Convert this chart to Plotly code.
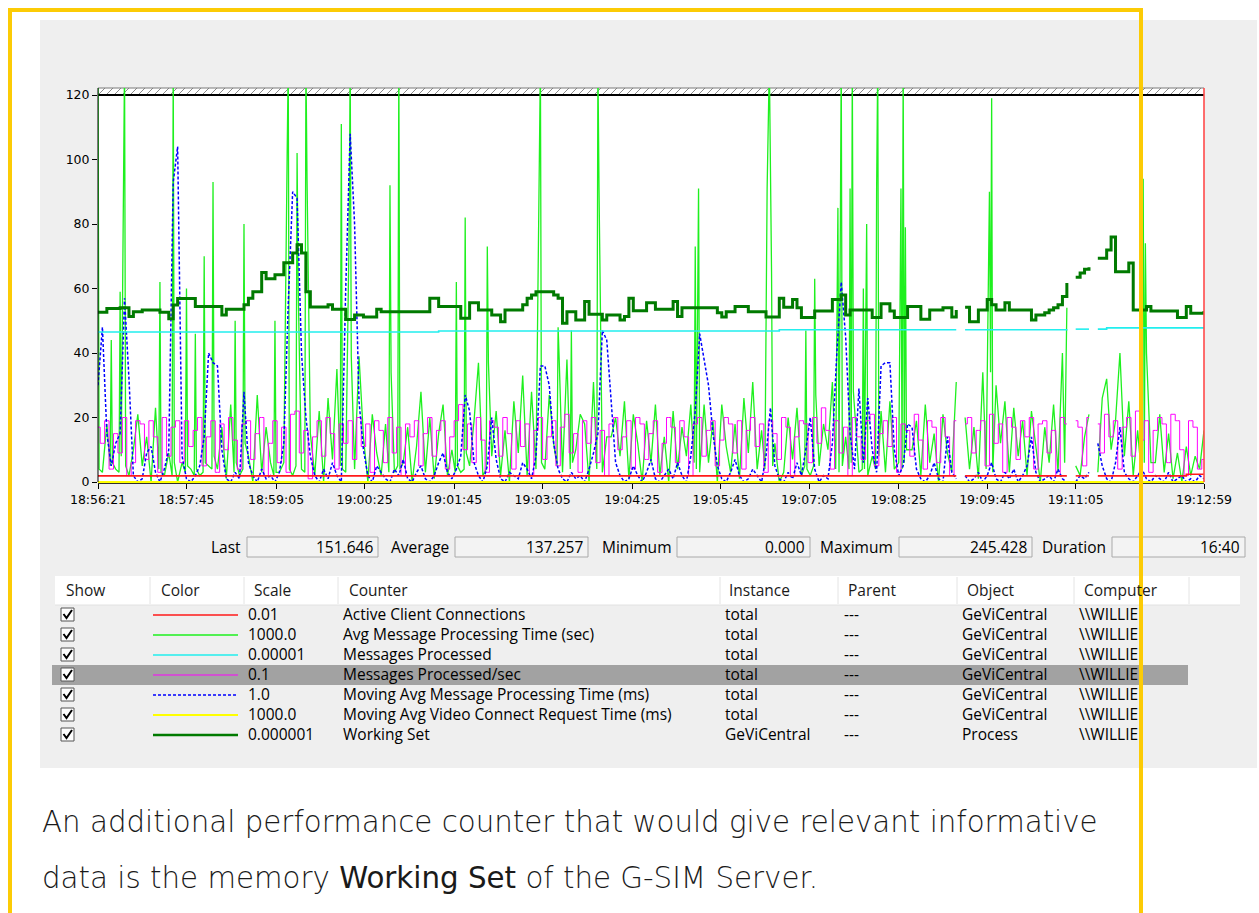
import plotly.graph_objects as go

W, H = 1259, 913


def px(x):
    return x / W


def py(y):
    return 1 - y / H


# ---------------------------------------------------------------- data
# sample time in seconds since 18:56:21 (one sample every 4 s)
t = list(range(0, 1001, 4))

tick_pos = [0, 80, 161, 241, 322, 402, 483, 563, 643, 724, 804, 884, 1000]
tick_text = ["18:56:21", "18:57:45", "18:59:05", "19:00:25", "19:01:45", "19:03:05",
             "19:04:25", "19:05:45", "19:07:05", "19:08:25", "19:09:45", "19:11:05",
             "19:12:59"]
y_ticks = [0, 20, 40, 60, 80, 100, 120]

# Avg Message Processing Time (sec), scale 1000.0 -- (second, value) samples;
# the one-second bursts are kept at full time resolution
avg_proc_samples = [
    (0, 130), (1, 4), (4, 3), (8, 18), (11, 5), (12, 44), (13, 6), (16, 4),
    (19, 3), (20, 59), (21, 8), (23, 91), (24, 130), (25, 5), (28, 2), (32, 10),
    (36, 21), (40, 5), (44, 14), (48, 0), (52, 23), (55, 4), (56, 62), (57, 3),
    (60, 2), (64, 9), (67, 2), (68, 130), (69, 6), (72, 0), (76, 6), (79, 3),
    (80, 60), (81, 5), (84, 4), (87, 2), (88, 46), (89, 4), (92, 2), (95, 3),
    (96, 70), (97, 6), (100, 5), (103, 4), (104, 93), (105, 8), (108, 4), (112, 17),
    (116, 1), (120, 24), (123, 3), (124, 50), (125, 6), (128, 2), (131, 4), (132, 80),
    (133, 12), (136, 8), (140, 0), (144, 27), (148, 3), (152, 17), (156, 6), (159, 2),
    (160, 50), (161, 3), (164, 3), (168, 6), (171, 101), (172, 130), (173, 4), (176, 2),
    (179, 5), (180, 102), (181, 60), (184, 4), (187, 3), (188, 130), (189, 94), (192, 15),
    (196, 2), (200, 22), (204, 0), (208, 26), (212, 7), (216, 35), (219, 5), (220, 111),
    (221, 4), (224, 3), (227, 76), (228, 130), (229, 39), (232, 4), (236, 39), (240, 14),
    (244, 0), (248, 21), (252, 9), (256, 2), (260, 18), (263, 3), (264, 92), (265, 34),
    (268, 3), (271, 5), (272, 130), (273, 4), (276, 6), (280, 17), (284, 0), (288, 11),
    (292, 28), (296, 3), (300, 20), (304, 1), (308, 15), (312, 24), (316, 2), (320, 10),
    (323, 3), (324, 62), (325, 5), (328, 3), (331, 4), (332, 82), (333, 9), (336, 5),
    (340, 19), (344, 37), (348, 2), (351, 4), (352, 73), (353, 37), (356, 8), (360, 22),
    (364, 2), (368, 16), (372, 0), (376, 25), (380, 9), (384, 33), (388, 2), (392, 28),
    (396, 4), (399, 91), (400, 130), (401, 6), (404, 4), (408, 27), (412, 12), (415, 5),
    (416, 48), (417, 38), (420, 3), (424, 38), (427, 4), (428, 47), (429, 6), (432, 10),
    (436, 21), (440, 18), (444, 0), (448, 31), (451, 4), (452, 130), (453, 91), (456, 3),
    (460, 14), (464, 14), (468, 20), (472, 8), (476, 25), (480, 1), (484, 21), (488, 12),
    (492, 0), (496, 19), (500, 6), (504, 24), (508, 2), (512, 14), (516, 0), (520, 22),
    (524, 4), (528, 17), (532, 8), (536, 24), (539, 6), (540, 73), (541, 4), (543, 91),
    (544, 3), (548, 24), (552, 6), (556, 19), (560, 0), (564, 24), (568, 11), (572, 3),
    (576, 18), (580, 1), (584, 26), (588, 9), (592, 31), (596, 4), (600, 16), (603, 4),
    (605, 91), (607, 130), (609, 65), (610, 5), (612, 12), (616, 0), (620, 3), (624, 20),
    (628, 7), (632, 23), (636, 2), (639, 5), (640, 47), (641, 4), (644, 2), (647, 5),
    (648, 63), (649, 27), (652, 5), (656, 18), (660, 10), (664, 31), (667, 4), (669, 85),
    (670, 3), (672, 130), (673, 5), (676, 14), (679, 4), (680, 91), (681, 6), (682, 130),
    (683, 28), (688, 3), (691, 4), (692, 60), (693, 4), (695, 80), (696, 2), (700, 8),
    (703, 4), (704, 91), (705, 130), (706, 8), (708, 22), (712, 3), (716, 25), (720, 4),
    (724, 6), (726, 91), (727, 4), (728, 130), (729, 6), (730, 79), (731, 10), (736, 10),
    (740, 19), (744, 2), (748, 24), (752, 6), (756, 15), (760, 0), (764, 21), (768, 9),
    (772, 3), (776, 31), (780, None), (784, 20), (788, 4), (792, 17), (796, 1), (800, 34),
    (803, 4), (806, 90), (807, 34), (808, 119), (809, 3), (812, 30), (816, 12), (820, 25),
    (824, 3), (828, 23), (832, 8), (836, 19), (840, 2), (844, 22), (848, 11), (852, 0),
    (856, 17), (860, 6), (864, 24), (868, 3), (872, 40), (874, 6), (876, 54), (880, None),
    (884, 5), (888, 2), (892, 14), (896, 21), (900, None), (904, 3), (908, 26), (912, 32),
    (916, 10), (920, 19), (924, 40), (928, 8), (932, 25), (936, 2), (940, 16), (943, 4),
    (945, 94), (946, 6), (947, 74), (948, 40), (952, 6), (956, 6), (960, 21), (964, 3),
    (968, 15), (972, 1), (976, 9), (980, 0), (984, 11), (988, 2), (992, 8), (996, 4),
    (1000, 16),
]
avg_proc_t = [s for s, _ in avg_proc_samples]
avg_proc_time = [v for _, v in avg_proc_samples]

# Messages Processed/sec, scale 0.1
msgs_per_sec = [
    17, 12, 19, 4, 15, 9, 20, 2, 6, 19,
    18, 7, 19, 14, 3, 20, 8, 17, 19, 6,
    19, 11, 16, 20, 5, 14, 19, 3, 18, 10,
    20, 13, 4, 18, 19, 7, 15, 20, 2, 12,
    19, 6, 17, 3, 21, 22, 9, 16, 1, 14,
    19, 8, 20, 15, 4, 18, 12, 19, 7, 20,
    11, 18, 3, 19, 16, 6, 20, 9, 17, 2,
    18, 14, 19, 5, 15, 20, 8, 16, 19, 4,
    14, 19, 24, 10, 18, 6, 20, 13, 3, 19,
    17, 8, 20, 15, 4, 19, 11, 18, 2, 16,
    20, 7, 14, 19, 5, 17, 21, 9, 15, 3,
    19, 12, 20, 6, 16, 2, 18, 20, 10, 14,
    19, 4, 20, 18, 7, 15, 19, 3, 12, 20,
    17, 6, 19, 14, 2, 18, 20, 8, 16, 19,
    5, 13, 20, 18, 9, 19, 4, 16, 20, 11,
    18, 3, 19, 15, 7, 20, 17, 2, 14, 19,
    18, 6, 20, 12, 23, 16, 4, 19, 9, 17,
    2, 20, 14, 7, 19, 21, 5, 15, 19, 11,
    20, 3, 18, 16, 8, 21, 13, 4, 19, 17,
    6, 20, 14, 2, 19, None, 18, 20, 9, 16,
    19, 5, 21, 12, 18, 3, 20, 17, 7, 19,
    14, 20, 4, 18, 19, 9, 16, 2, 20, 18,
    None, 19, 17, 5, 20, None, 18, 9, 21, 14,
    19, 4, 17, 20, 8, 22, 13, 19, 3, 16,
    20, 18, 6, 21, 19, 10, 2, 19, 17, 4,
    7,
]

# Moving Avg Message Processing Time (ms), scale 1.0
moving_avg_proc = [
    30, 48, 15, 5, 12, 15, 57, 32, 2, 0,
    1, 9, 11, 3, 0, 4, 10, 93, 104, 8,
    1, 0, 2, 5, 14, 40, 37, 36, 10, 1,
    0, 3, 1, 28, 6, 2, 0, 4, 1, 2,
    0, 3, 12, 55, 90, 88, 40, 20, 8, 2,
    0, 4, 1, 6, 2, 0, 60, 108, 80, 25,
    10, 2, 0, 5, 3, 1, 0, 4, 2, 7,
    1, 0, 3, 5, 1, 0, 2, 6, 9, 3,
    1, 4, 8, 27, 22, 6, 2, 0, 5, 20,
    7, 1, 0, 3, 2, 1, 6, 4, 1, 8,
    36, 36, 30, 12, 4, 1, 0, 3, 1, 2,
    0, 4, 9, 15, 47, 44, 25, 6, 2, 0,
    1, 5, 2, 0, 3, 7, 1, 0, 2, 4,
    1, 6, 2, 0, 8, 22, 46, 38, 30, 15,
    5, 1, 0, 3, 7, 2, 0, 1, 4, 2,
    0, 8, 23, 5, 1, 0, 3, 1, 6, 2,
    10, 20, 4, 0, 2, 1, 12, 40, 62, 45,
    15, 4, 29, 6, 26, 10, 3, 36, 37, 37,
    10, 2, 5, 18, 17, 4, 1, 0, 2, 6,
    1, 0, 14, 3, 1, None, 2, 0, 1, 3,
    0, 2, 6, 1, 0, 3, 1, 4, 0, 2,
    5, 14, 3, 0, 1, 2, 0, 4, 1, 0,
    None, 0, 2, 1, 3, None, 12, 5, 1, 0,
    6, 17, 3, 1, 0, 2, 4, 1, 0, 2,
    1, 0, 3, 0, 1, 2, 0, 1, 0, 2,
    1,
]

# Working Set, scale 0.000001
working_set = [
    52.6, 52.6, 53.8, 53.8, 53.8, 54.0, 54.0, 51.3, 52.8, 52.8,
    53.3, 53.3, 53.3, 53.3, 52.6, 52.6, 50.6, 54.9, 56.9, 56.9,
    56.9, 56.9, 54.4, 54.4, 54.4, 54.4, 54.4, 54.4, 51.8, 53.6,
    53.6, 53.6, 53.6, 55.0, 57.0, 59.0, 59.0, 65.0, 63.0, 63.0,
    64.3, 64.3, 68.0, 68.0, 71.0, 73.6, 71.0, 59.0, 54.3, 54.3,
    54.3, 54.3, 55.0, 53.6, 53.6, 53.6, 50.4, 50.4, 51.8, 51.8,
    51.2, 51.2, 51.2, 53.6, 52.8, 52.8, 52.8, 52.8, 52.8, 52.8,
    52.8, 52.8, 52.8, 52.8, 52.8, 57.0, 57.0, 54.4, 54.4, 54.4,
    54.4, 54.4, 50.8, 50.8, 55.6, 55.6, 53.3, 53.3, 53.3, 51.8,
    51.8, 49.7, 53.3, 53.3, 53.3, 53.3, 55.0, 57.0, 58.0, 59.0,
    59.0, 59.0, 59.0, 58.0, 57.0, 49.2, 52.8, 52.8, 50.2, 50.2,
    56.0, 52.0, 52.0, 52.0, 50.2, 51.8, 51.8, 51.8, 50.2, 51.3,
    57.0, 53.1, 53.1, 53.1, 55.6, 55.6, 53.6, 53.6, 53.6, 53.6,
    56.0, 51.3, 54.0, 54.0, 54.0, 54.0, 54.0, 54.0, 54.0, 54.0,
    52.5, 51.2, 52.8, 52.8, 54.4, 54.4, 54.4, 52.8, 52.8, 52.8,
    52.8, 51.2, 51.2, 51.2, 57.0, 54.2, 54.2, 56.6, 54.0, 51.0,
    51.0, 51.0, 53.0, 53.0, 53.0, 53.0, 56.6, 56.6, 58.0, 51.8,
    53.3, 53.3, 53.3, 53.3, 53.3, 51.0, 51.0, 55.3, 55.3, 53.0,
    51.0, 51.0, 51.0, 54.4, 54.4, 54.4, 50.5, 50.5, 53.3, 53.3,
    53.3, 54.0, 54.0, 51.2, 53.3, None, 54.2, 49.7, 49.7, 53.3,
    53.3, 56.6, 55.0, 53.3, 53.3, 55.6, 53.3, 53.3, 53.3, 53.3,
    53.3, 50.2, 51.8, 51.8, 52.5, 53.3, 54.0, 55.0, 57.5, 61.7,
    None, 63.5, 64.8, 66.0, 66.6, None, 69.4, 69.4, 71.9, 76.0,
    65.2, 65.2, 65.2, 67.9, 53.3, 53.3, 53.3, 54.4, 53.0, 53.0,
    53.0, 53.0, 53.0, 53.0, 51.0, 51.0, 54.4, 52.3, 52.3, 52.3,
    53.0,
]

# Active Client Connections, scale 0.01 (value changes only)
active_conn_t = [0, 776, 780, 784, 876, 880, 884, 896, 900, 904, 984, 1000]
active_conn = [1.9, 1.9, None, 1.9, 1.9, None, 1.9, 1.9, None, 1.9, 2.4, 2.4]

# Messages Processed, scale 0.00001 (value changes only)
msgs_processed_t = [0, 308, 616, 776, 780, 784, 876, 880, 884, 896, 900, 904, 912, 1000]
msgs_processed = [46.5, 46.8, 47.2, 47.2, None, 47.2, 47.4, None, 47.4, 47.4, None,
                  47.4, 47.8, 47.8]

# Moving Avg Video Connect Request Time (ms), scale 1000.0
video_req_t = [0, 1000]
video_req = [0, 0]

# statistics bar
stat_labels = ["Last", "Average", "Minimum", "Maximum", "Duration"]
stat_values = ["151.646", "137.257", "0.000", "245.428", "16:40"]

# counter list
header_names = ["Show", "Color", "Scale", "Counter", "Instance", "Parent", "Object",
                "Computer"]
counter_scales = ["0.01", "1000.0", "0.00001", "0.1", "1.0", "1000.0", "0.000001"]
counter_names = ["Active Client Connections", "Avg Message Processing Time (sec)",
                 "Messages Processed", "Messages Processed/sec",
                 "Moving Avg Message Processing Time (ms)",
                 "Moving Avg Video Connect Request Time (ms)", "Working Set"]
counter_instances = ["total", "total", "total", "total", "total", "total", "GeViCentral"]
counter_parents = ["---", "---", "---", "---", "---", "---", "---"]
counter_objects = ["GeViCentral", "GeViCentral", "GeViCentral", "GeViCentral",
                   "GeViCentral", "GeViCentral", "Process"]
counter_computers = ["\\\\WILLIE", "\\\\WILLIE", "\\\\WILLIE", "\\\\WILLIE",
                     "\\\\WILLIE", "\\\\WILLIE", "\\\\WILLIE"]
selected_counter = "Messages Processed/sec"

paragraph = ["An additional performance counter that would give relevant informative",
             "data is the memory <span style=\"font-weight:500\">Working Set</span> "
             "of the G-SIM Server."]

# ---------------------------------------------------------------- styles
styles = {
    "Active Client Connections": dict(color="#ff1a1a", width=1.6, dash="solid"),
    "Avg Message Processing Time (sec)": dict(color="#1ef01e", width=1.3, dash="solid"),
    "Messages Processed": dict(color="#22eeee", width=1.6, dash="solid"),
    "Messages Processed/sec": dict(color="#ff00ff", width=1.0, dash="solid"),
    "Moving Avg Message Processing Time (ms)": dict(color="#0000ff", width=1.5,
                                                    dash="3px,2px"),
    "Moving Avg Video Connect Request Time (ms)": dict(color="#ffff00", width=2.0,
                                                       dash="solid"),
    "Working Set": dict(color="#007a00", width=3.0, dash="solid"),
}

UI_FONT = "Open Sans"
AX_FONT = "DejaVu Sans"

fig = go.Figure()


def add_series(x, y, name, shape="linear"):
    st = styles[name]
    fig.add_trace(go.Scatter(
        x=x, y=y, mode="lines", name=name, showlegend=False, hoverinfo="skip",
        line=dict(color=st["color"], width=st["width"], dash=st["dash"], shape=shape),
        connectgaps=False,
    ))


add_series(avg_proc_t, avg_proc_time, "Avg Message Processing Time (sec)")
add_series(t, msgs_per_sec, "Messages Processed/sec", shape="hvh")
add_series(t, moving_avg_proc, "Moving Avg Message Processing Time (ms)")
add_series(msgs_processed_t, msgs_processed, "Messages Processed", shape="hv")
add_series(active_conn_t, active_conn, "Active Client Connections", shape="hv")
add_series(video_req_t, video_req, "Moving Avg Video Connect Request Time (ms)")
add_series(t, working_set, "Working Set", shape="hv")

# ---------------------------------------------------------------- decorations
PL, PR, PT, PB = 98, 1204, 95, 482          # frame of the 0..120 scale in pixels
BAND = 88                                   # top of the overflow band
UNIT = (PB - PT) / 120                      # pixels per scale unit
shapes = []
annotations = []


def rect(x0, y0, x1, y1, fill=None, line=None, lw=1, layer="below"):
    shapes.append(dict(type="rect", xref="paper", yref="paper",
                       x0=px(x0), y0=py(y0), x1=px(x1), y1=py(y1),
                       fillcolor=fill or "rgba(0,0,0,0)",
                       line=dict(color=line or "rgba(0,0,0,0)", width=lw if line else 0),
                       layer=layer))


def seg(x0, y0, x1, y1, color, width=1, dash="solid", layer="above"):
    shapes.append(dict(type="line", xref="paper", yref="paper",
                       x0=px(x0), y0=py(y0), x1=px(x1), y1=py(y1),
                       line=dict(color=color, width=width, dash=dash), layer=layer))


def text(x, y, s, anchor="left", size=15.5, color="#000000", family=UI_FONT, weight=None):
    f = dict(family=family, size=size, color=color)
    if weight:
        f["weight"] = weight
    annotations.append(dict(xref="paper", yref="paper", x=px(x), y=py(y), text=s,
                            showarrow=False, xanchor=anchor, yanchor="middle",
                            font=f, borderpad=0))


# panel and white graph area
rect(40, 20, 1257, 768, fill="#efefef")
rect(PL, BAND, PR, PB, fill="#ffffff")

# hatched overflow band above the top of the scale (lines run through it)
hatch = ""
x = PL
while x + 7 <= PR:
    hatch += f"M {px(x)},{py(PT)} L {px(x + 7)},{py(BAND)} "
    x += 8
shapes.append(dict(type="path", xref="paper", yref="paper", path=hatch,
                   line=dict(color="#8a8a8a", width=1), layer="below"))
seg(PL, BAND, PR, BAND, "#7a7a7a", 1, layer="below")
seg(PL, PT, PR, PT, "#000000", 2, layer="below")
seg(PL, BAND, PL, PB, "#000000", 1)
# current-time bar
seg(PR, BAND, PR, PB, "#ff4a4a", 1.6)

# statistics bar
box_left = [247, 455, 677, 899, 1112]
box_right = [378, 588, 810, 1032, 1245]
for lab, val, bl, br in zip(stat_labels, stat_values, box_left, box_right):
    rect(bl, 537, br, 557, fill="#f3f3f3", line="#a9a9a9", lw=1)
    text(bl - 5, 547, lab, anchor="right")
    text(br - 4, 547, val, anchor="right")

# list header
rect(55, 576, 1240, 605, fill="#ffffff")
seg(55, 605, 1240, 605, "#e2e2e2", 1)
for sx in [150, 244, 338, 720, 838, 957, 1074, 1189]:
    seg(sx, 577, sx, 604, "#e4e4e4", 1)
for name, hx in zip(header_names, [65, 160, 253, 348, 728, 847, 966, 1083]):
    text(hx, 590, name, color="#1a1a1a")

# list rows
for i, name in enumerate(counter_names):
    cy = 615 + 20 * i
    if name == selected_counter:
        rect(52, cy - 10, 1188, cy + 10, fill="#a2a2a2")
    # check box
    rect(61, cy - 7, 74, cy + 6, fill="#ffffff", line="#555555", lw=1)
    shapes.append(dict(type="path", xref="paper", yref="paper",
                       path=f"M {px(63.5)},{py(cy - 1)} L {px(66.5)},{py(cy + 3)} "
                            f"L {px(72)},{py(cy - 5)}",
                       line=dict(color="#000000", width=2), layer="above"))
    st = styles[name]
    seg(153, cy, 238, cy, st["color"], min(st["width"], 2.5), st["dash"])
    text(247, cy - 1, counter_scales[i])
    text(342, cy - 1, name)
    text(724, cy - 1, counter_instances[i])
    text(843, cy - 1, counter_parents[i])
    text(961, cy - 1, counter_objects[i])
    text(1078, cy - 1, counter_computers[i])

# paragraph under the screenshot
for j, line in enumerate(paragraph):
    text(41, 822 + 56 * j, line, size=29.3, color="#1a1a1a", family="DejaVu Sans",
         weight=300)

# yellow frame
shapes.append(dict(type="rect", xref="paper", yref="paper",
                   x0=px(10), y0=py(10), x1=px(1141), y1=py(940),
                   line=dict(color="#fccb05", width=4), fillcolor="rgba(0,0,0,0)",
                   layer="above"))

fig.update_layout(
    width=W, height=H, autosize=False,
    margin=dict(l=0, r=0, t=0, b=0),
    paper_bgcolor="#ffffff", plot_bgcolor="rgba(0,0,0,0)",
    showlegend=False,
    shapes=shapes, annotations=annotations,
    xaxis=dict(domain=[px(PL), px(PR)], range=[0, 1000], tickmode="array",
               tickvals=tick_pos, ticktext=tick_text, showgrid=False, zeroline=False,
               showline=True, linecolor="#303030", linewidth=1, ticks="outside",
               ticklen=5, tickcolor="#000000", automargin=False, fixedrange=True,
               tickfont=dict(family=AX_FONT, size=12.5, color="#000000")),
    yaxis=dict(domain=[py(PB + 1.1), py(BAND)],
               range=[-1.1 / UNIT, 120 + (PT - BAND) / UNIT], tickmode="array",
               tickvals=y_ticks, showgrid=False, zeroline=False, showline=False,
               ticks="outside", ticklen=5, tickcolor="#000000", automargin=False,
               fixedrange=True, tickfont=dict(family=AX_FONT, size=12.5, color="#000000")),
)

fig.write_html("out.html")
